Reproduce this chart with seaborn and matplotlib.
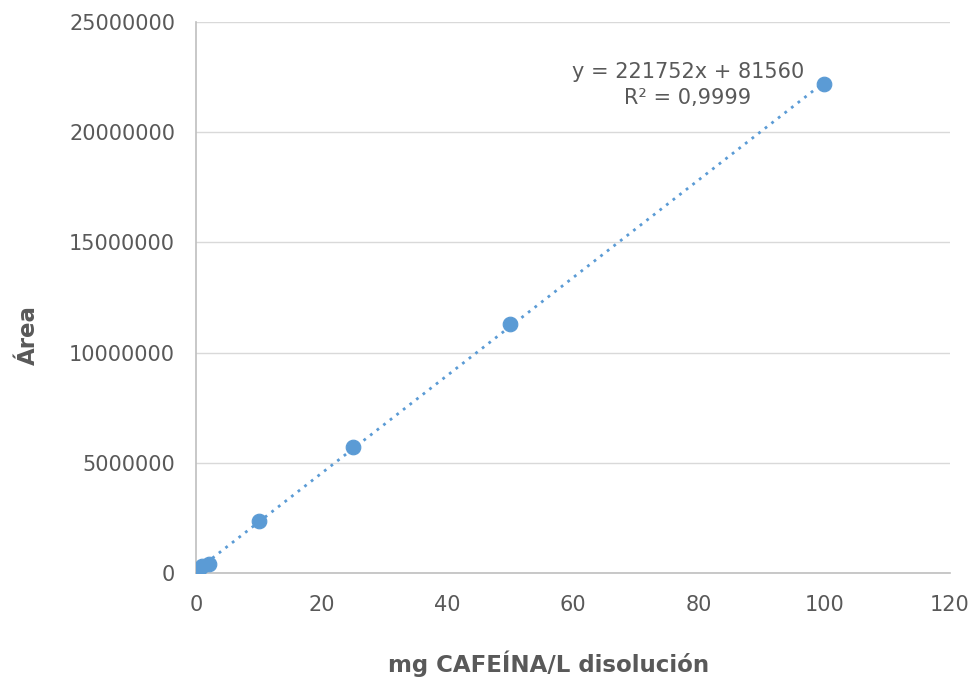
import numpy as np
import pandas as pd
import matplotlib
matplotlib.use("Agg")
import matplotlib.pyplot as plt
import seaborn as sns

# data
conc = [0.5, 1, 2, 10, 25, 50, 100]
area = [190000, 300000, 420000, 2360000, 5720000, 11300000, 22190000]
x_ticks = [0, 20, 40, 60, 80, 100, 120]
y_ticks = [0, 5000000, 10000000, 15000000, 20000000, 25000000]
eq_text = "y = 221752x + 81560\nR² = 0,9999"

df = pd.DataFrame({"conc": conc, "area": area})

sns.set_theme(style="white")
plt.rcParams['font.family'] = ['DejaVu Sans']

grey = "#595959"
blue = "#5B9BD5"

fig = plt.figure(figsize=(9.77, 6.79), dpi=100)
ax = fig.add_axes([0.2006, 0.1561, 0.7718, 0.8115])

# linear trendline (dotted)
slope, intercept = np.polyfit(df["conc"], df["area"], 1)
xs = np.array([min(conc), max(conc)])
ax.plot(xs, slope * xs + intercept, linestyle=(0, (1, 2)), color=blue, linewidth=2, zorder=2)

sns.scatterplot(data=df, x="conc", y="area", ax=ax, color=blue, s=110, edgecolor=blue, zorder=3)

ax.set_xlim(0, 120)
ax.set_ylim(0, 25000000)
ax.set_xticks(x_ticks)
ax.set_yticks(y_ticks)
ax.set_xticklabels([str(v) for v in x_ticks])
ax.set_yticklabels([str(v) for v in y_ticks])
ax.tick_params(colors=grey, labelsize=15, length=0)
ax.tick_params(axis="x", pad=16)
ax.tick_params(axis="y", pad=15)
ax.yaxis.grid(True, color="#D9D9D9", linewidth=1)
ax.xaxis.grid(False)

for side in ["top", "right"]:
    ax.spines[side].set_visible(False)
for side in ["left", "bottom"]:
    ax.spines[side].set_color("#BFBFBF")
    ax.spines[side].set_linewidth(1.2)

ax.set_xlabel("mg CAFEÍNA/L disolución", fontsize=16.5, fontweight="bold", color=grey)
ax.set_ylabel("Área", fontsize=16.5, fontweight="bold", color=grey)
ax.xaxis.set_label_coords(0.467, -0.14)
ax.yaxis.set_label_coords(-0.207, 0.432)

ax.text(78.3, 22150000, eq_text, ha="center", va="center", fontsize=15, color=grey, linespacing=1.4)

fig.savefig("out.png", dpi=100)
